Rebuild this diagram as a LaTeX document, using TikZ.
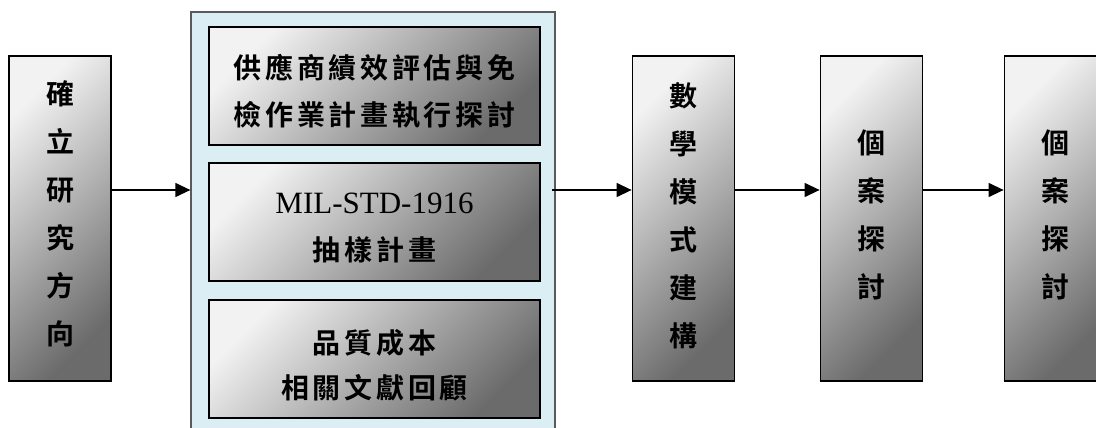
\documentclass[tikz,border=0pt]{standalone}
\usepackage{fontspec}
\setmainfont{Liberation Serif}
\newfontfamily\cjk{Noto Sans CJK TC}[BoldFont={Noto Sans CJK TC Bold}]
\usetikzlibrary{arrows.meta}
\definecolor{gA}{HTML}{F2F2F2}
\definecolor{gB}{HTML}{6B6B6B}
\definecolor{contfill}{HTML}{DAEEF3}
\definecolor{contline}{HTML}{5A5A5A}
\def\spaced#1{\spacedi#1\relax}
\def\spacedi#1{\ifx#1\relax\else\makebox[31.7pt]{#1}\expandafter\spacedi\fi}
\tikzset{
  gbox/.style={draw=black, line width=1.8pt, top color=gA, bottom color=gB, shading angle=45, inner sep=0pt},
  vbox/.style={gbox, minimum width=102pt, minimum height=325pt},
  hbox/.style={gbox, minimum width=331pt, minimum height=118pt},
  cjktxt/.style={align=center, inner sep=0pt, font=\cjk\bfseries\fontsize{28}{48}\selectfont},
  htxt/.style={align=center, inner sep=0pt, font=\cjk\bfseries\fontsize{28}{47}\selectfont},
  arr/.style={line width=1.3pt, -{Triangle[length=15pt,width=14pt]}},
  container/.style={draw=contline, line width=1.3pt, fill=contfill, inner sep=0pt}
}
\begin{document}
\begin{tikzpicture}[x=1pt,y=-1pt]
\clip (0,0) rectangle (1096,428);
\fill[white] (0,0) rectangle (1096,428);
% container
\node[container, minimum width=364pt, minimum height=440pt] (cont) at (373,232) {};
% inner boxes
\node[hbox] (ba) at (374.5,86) {};
\node[hbox] (bb) at (374.5,222) {};
\node[hbox] (bc) at (374.5,359) {};
\node[htxt] (ta) at ([yshift=-5pt]ba.center) {\spaced{供應商績效評估與免}\\\spaced{檢作業計畫執行探討}};
\node[htxt] (tb) at ([yshift=-6pt]bb.center) {\fontsize{31}{48}\selectfont\rmfamily\mdseries MIL-STD-1916\\\fontsize{28}{50}\selectfont\spaced{抽樣計畫}};
\node[htxt, font=\cjk\bfseries\fontsize{28}{45}\selectfont] (tc) at ([yshift=-6pt]bc.center) {\spaced{品質成本}\\\spaced{相關文獻回顧}};
% vertical boxes
\node[vbox] (b1) at (60,218.5) {};
\node[vbox] (b3) at (683.5,218.5) {};
\node[vbox] (b4) at (871.5,218.5) {};
\node[vbox] (b5) at (1055.5,218.5) {};
\node[cjktxt] (t1) at ([yshift=4.5pt]b1.center) {確\\立\\研\\究\\方\\向};
\node[cjktxt] (t3) at ([yshift=3pt]b3.center) {數\\學\\模\\式\\建\\構};
\node[cjktxt] (t4) at ([yshift=3.5pt]b4.center) {個\\案\\探\\討};
\node[cjktxt] (t5) at ([yshift=3.5pt]b5.center) {個\\案\\探\\討};
% arrows
\coordinate (ay) at (0,190);
\draw[arr] (b1.east |- ay) -- (cont.west |- ay);
\draw[arr] ([xshift=-4pt]cont.east |- ay) -- (b3.west |- ay);
\draw[arr] (b3.east |- ay) -- (b4.west |- ay);
\draw[arr] (b4.east |- ay) -- (b5.west |- ay);
\end{tikzpicture}
\end{document}
